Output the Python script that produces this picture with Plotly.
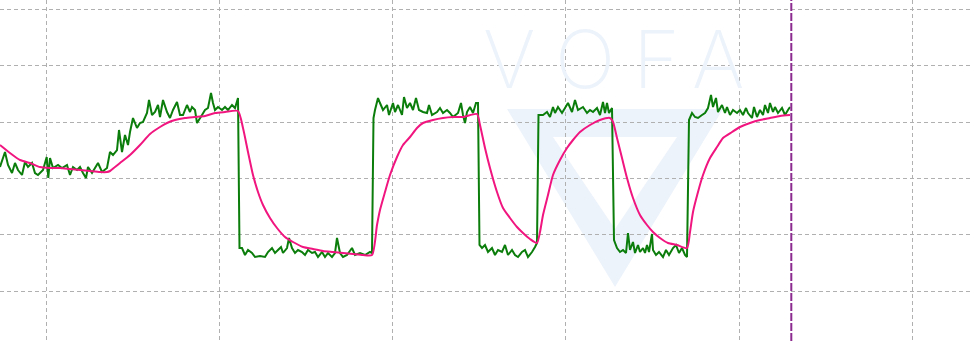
import plotly.graph_objects as go

# ---- data (sample index, signal value) ----
setpoint_x = [0, 5, 8, 12, 15, 18, 22, 25, 28, 32, 35, 38, 43, 46.7, 48.3, 50, 53, 58, 62, 67,
              70, 73, 77, 80, 83, 86, 88, 92, 95, 98, 102, 107, 110, 113, 117, 119, 122, 125, 128, 130,
              133, 137, 140, 143, 147, 149, 152, 155, 158, 160, 163, 167, 170, 173, 177, 180, 183, 187, 190, 192,
              195, 197, 202, 205, 208, 211, 213, 215, 218, 222, 225, 228, 232, 235, 238, 239.5, 242, 245, 248, 252,
              255, 260, 265, 268, 272, 275, 278, 281, 283, 287, 289, 292, 295, 298, 302, 305, 308, 312, 315, 318,
              322, 325, 328, 332, 335, 337, 340, 343, 347, 352, 355, 360, 365, 370, 372, 373.5, 375, 378, 380, 383,
              387, 389, 393, 395, 398, 402, 404, 407, 410, 413, 416, 419, 423, 427, 429, 432, 437, 440, 443, 447,
              450, 453, 458, 461, 463, 465, 467, 470, 473, 476, 478, 479.5, 482, 485, 488, 492, 495, 498, 502, 505,
              508, 512, 515, 518, 522, 525, 528, 532, 535, 537, 538.5, 543, 547, 550, 553, 555, 558, 562, 565, 568,
              572, 575, 578, 583, 587, 590, 593, 597, 600, 603, 605, 607, 609, 612, 614, 617, 620, 623, 626, 628,
              630, 633, 635, 638, 640, 643, 645, 647, 649, 652, 653, 656, 659, 663, 666, 669, 673, 676, 679, 682,
              685, 687, 689, 692, 695, 698, 702, 705, 708, 711, 713, 716, 718, 722, 725, 727, 730, 733, 737, 740,
              743, 746, 748, 752, 754, 757, 760, 763, 765, 768, 770, 773, 775, 778, 782, 785, 788, 790]
setpoint_y = [124, 139, 126, 118, 128, 121, 116, 129, 124, 128, 118, 116, 121, 134, 113, 133, 123, 126, 123, 126,
              116, 124, 121, 124, 118, 113, 124, 118, 123, 128, 119, 123, 139, 136, 141, 161, 139, 156, 146, 159,
              173, 163, 168, 169, 178, 191, 176, 179, 186, 174, 191, 179, 173, 181, 189, 176, 176, 186, 179, 184,
              181, 168, 176, 181, 183, 198, 188, 181, 184, 181, 184, 181, 186, 183, 193, 43, 43, 36, 41, 38,
              34, 35, 34, 39, 43, 38, 41, 44, 38, 43, 53, 43, 38, 41, 39, 36, 41, 38, 39, 34,
              39, 34, 38, 34, 38, 53, 38, 34, 36, 43, 36, 38, 36, 39, 38, 173, 181, 193, 188, 181,
              186, 176, 188, 179, 186, 176, 194, 183, 188, 181, 193, 181, 179, 178, 186, 176, 179, 183, 178, 181,
              178, 174, 178, 188, 176, 168, 179, 184, 178, 188, 188, 46, 43, 46, 39, 43, 36, 41, 39, 46,
              36, 41, 36, 34, 39, 41, 34, 39, 44, 48, 176, 176, 179, 174, 184, 178, 184, 178, 183, 188,
              179, 191, 181, 184, 178, 181, 179, 183, 176, 189, 178, 188, 178, 183, 51, 43, 39, 41, 38, 58,
              41, 49, 38, 46, 39, 43, 38, 46, 39, 57, 41, 36, 39, 34, 41, 36, 43, 46, 38, 43,
              36, 34, 171, 178, 174, 173, 176, 178, 183, 196, 184, 193, 179, 186, 178, 184, 176, 181, 178, 181,
              176, 183, 178, 173, 184, 174, 181, 176, 186, 178, 188, 179, 184, 178, 183, 176, 181, 184]

response_x = [0, 10, 20, 30, 40, 50, 60, 70, 80, 90, 100, 107, 110, 115, 120, 130, 140, 150, 160, 167,
              175, 185, 195, 205, 215, 225, 238, 243, 248, 253, 258, 263, 270, 277, 285, 293, 303, 313, 323, 333,
              343, 353, 363, 372, 377, 380, 385, 390, 397, 403, 410, 417, 423, 433, 443, 453, 463, 477, 480, 485,
              490, 497, 503, 510, 517, 523, 530, 537, 540, 543, 548, 553, 560, 567, 573, 580, 590, 600, 610, 613,
              617, 622, 627, 633, 640, 647, 653, 660, 668, 677, 687, 690, 693, 698, 703, 710, 717, 723, 732, 740,
              750, 760, 770, 780, 790]
response_y = [146, 138, 131, 128, 124, 123, 123, 122, 121, 120, 119, 119, 120, 124, 128, 136, 146, 157, 164, 168,
              171, 173, 174, 175, 178, 179, 180, 163, 139, 116, 99, 86, 73, 63, 54, 49, 44, 42, 40, 39,
              38, 37, 36, 36, 66, 81, 99, 116, 134, 146, 154, 163, 168, 171, 173, 174, 174, 177, 166, 143,
              123, 99, 83, 73, 64, 58, 52, 48, 59, 76, 96, 116, 131, 143, 151, 159, 166, 171, 173, 169,
              153, 133, 113, 93, 76, 66, 59, 53, 48, 46, 43, 59, 79, 99, 116, 133, 144, 153, 159, 164,
              168, 171, 173, 175, 176]

cursor_x = 791.3
watermark_letters = ["V", "O", "F", "A"]

# ---- figure ----
fig = go.Figure()
fig.add_trace(go.Scatter(x=setpoint_x, y=setpoint_y, mode="lines",
                         line=dict(color="#0b7d0b", width=2), hoverinfo="skip"))
fig.add_trace(go.Scatter(x=response_x, y=response_y, mode="lines",
                         line=dict(color="#f0157f", width=2, shape="spline", smoothing=0.6),
                         hoverinfo="skip"))

wm = "#edf3fb"
# watermark logo (big V with inner cut-out)
fig.add_shape(type="path", path="M 507 182 L 723 182 L 615 4 Z", xref="x", yref="y",
              fillcolor=wm, line=dict(width=0), layer="below")
fig.add_shape(type="path", path="M 553 154 L 677 154 L 615 62 Z", xref="x", yref="y",
              fillcolor="white", line=dict(width=0), layer="below")

letter_pos = [509, 585, 656, 718]
for ch, px in zip(watermark_letters, letter_pos):
    fig.add_annotation(text=ch, x=px, y=233, xref="x", yref="y", showarrow=False,
                       font=dict(family="Inter", size=80, color=wm, weight=200),
                       xanchor="center", yanchor="middle")

fig.add_shape(type="line", x0=cursor_x, x1=cursor_x, y0=0, y1=1, xref="x", yref="paper",
              line=dict(color="#8b2a8f", width=2, dash="8px,2px"))

fig.update_xaxes(range=[0, 970], showgrid=True, tick0=46.3, dtick=173.2,
                 gridcolor="#b0b0b0", griddash="4px,3px", gridwidth=1,
                 showticklabels=False, zeroline=False, showline=False, ticks="")
fig.update_yaxes(range=[-50, 291], showgrid=True, tick0=0, dtick=56.3,
                 gridcolor="#b0b0b0", griddash="4px,3px", gridwidth=1,
                 showticklabels=False, zeroline=False, showline=False, ticks="")
fig.update_layout(width=970, height=341, margin=dict(l=0, r=0, t=0, b=0),
                  paper_bgcolor="white", plot_bgcolor="white", showlegend=False)

fig.write_html("out.html")
